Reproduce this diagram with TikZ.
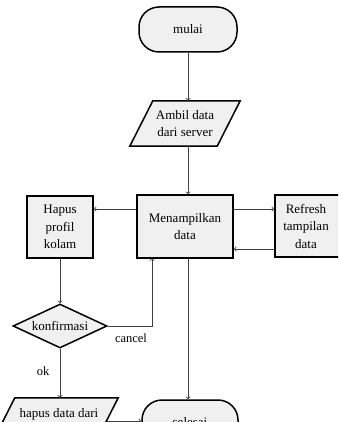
\documentclass[tikz,border=0pt]{standalone}
\usepackage{fontspec}
\setmainfont{Liberation Serif}
\usetikzlibrary{calc,shapes.geometric}
\tikzset{
  box/.style={draw=black, line width=1.5pt, fill=black!6, align=center, inner sep=2pt},
  term/.style={box, rounded corners=20pt},
  txt/.style={align=center, inner sep=0pt},
  arr/.style={draw=black!75, line width=0.9pt, ->, >=to},
  lbl/.style={font=\fontsize{12.5}{14}\selectfont, inner sep=1pt},
}
\begin{document}
\begin{tikzpicture}[x=1pt,y=-1pt, font=\fontsize{13}{17.5}\selectfont]
\useasboundingbox (0,0) rectangle (338,422);
\clip (0,0) rectangle (338,422);
\fill[white] (0,0) rectangle (338,422);
% nodes
\node[term, minimum width=98pt, minimum height=45pt] (mulai) at (188,29.5) {mulai};
\node[txt, minimum width=87pt, minimum height=45pt] (ambil) at (185,123.5) {};
\draw[box] ($(ambil.north west)+(11.5pt,0)$) -- ($(ambil.north east)+(11.5pt,0)$)
  -- ($(ambil.south east)+(-11.5pt,0)$) -- ($(ambil.south west)+(-11.5pt,0)$) -- cycle;
\node[txt] (ambiltxt) at (ambil) {Ambil data\\dari server};
\node[box, minimum width=96pt, minimum height=63pt] (tampil) at (185,226.5) {Menampilkan\\data};
\node[box, minimum width=66pt, minimum height=62pt] (hapus) at (60,227) {Hapus\\profil\\kolam};
\node[box, minimum width=76pt, minimum height=62pt] (refresh) at (313,226) {};
\node[txt] (refreshtxt) at (306,226) {Refresh\\tampilan\\data};
\node[box, diamond, aspect=2.1, minimum width=94pt, minimum height=44pt, inner sep=0pt] (konf) at (60,326) {konfirmasi};
\node[txt, minimum width=80pt, minimum height=45pt] (hdata) at (60,420.5) {};
\draw[box] ($(hdata.north west)+(-5pt,0)$) -- ($(hdata.north east)+(18pt,0)$)
  -- ($(hdata.south east)+(-5pt,0)$) -- ($(hdata.south west)+(-28pt,0)$) -- cycle;
\node[txt, anchor=base] (hdatatxt) at (59,417) {hapus data dari};
\node[term, minimum width=96pt, minimum height=45pt] (selesai) at (190,422.5) {selesai};
\node[lbl] (cancel) at (131,338) {cancel};
\node[lbl] (ok) at (43,371) {ok};
\coordinate (cturn) at (152,326);
\coordinate (cend) at (152,258);
\coordinate (hout) at (107,421);
% connectors
\draw[arr] (mulai.south) -- (mulai.south |- ambil.north);
\draw[arr] (mulai.south |- ambil.south) -- (mulai.south |- tampil.north);
\draw[arr] (tampil.west |- 0,209) -- (hapus.east |- 0,209);
\draw[arr] (tampil.east |- 0,209) -- (refresh.west |- 0,209);
\draw[arr] (refresh.west |- 0,249) -- (tampil.east |- 0,249);
\draw[arr] (hapus.south) -- (konf.north);
\draw[arr] (konf.east) -- (cturn) -- (cend);
\draw[arr] (konf.south) -- (hdata.north);
\draw[arr] (mulai.south |- tampil.south) -- (mulai.south |- selesai.north);
\draw[arr] (hout) -- (selesai.west |- hout);
\end{tikzpicture}
\end{document}
